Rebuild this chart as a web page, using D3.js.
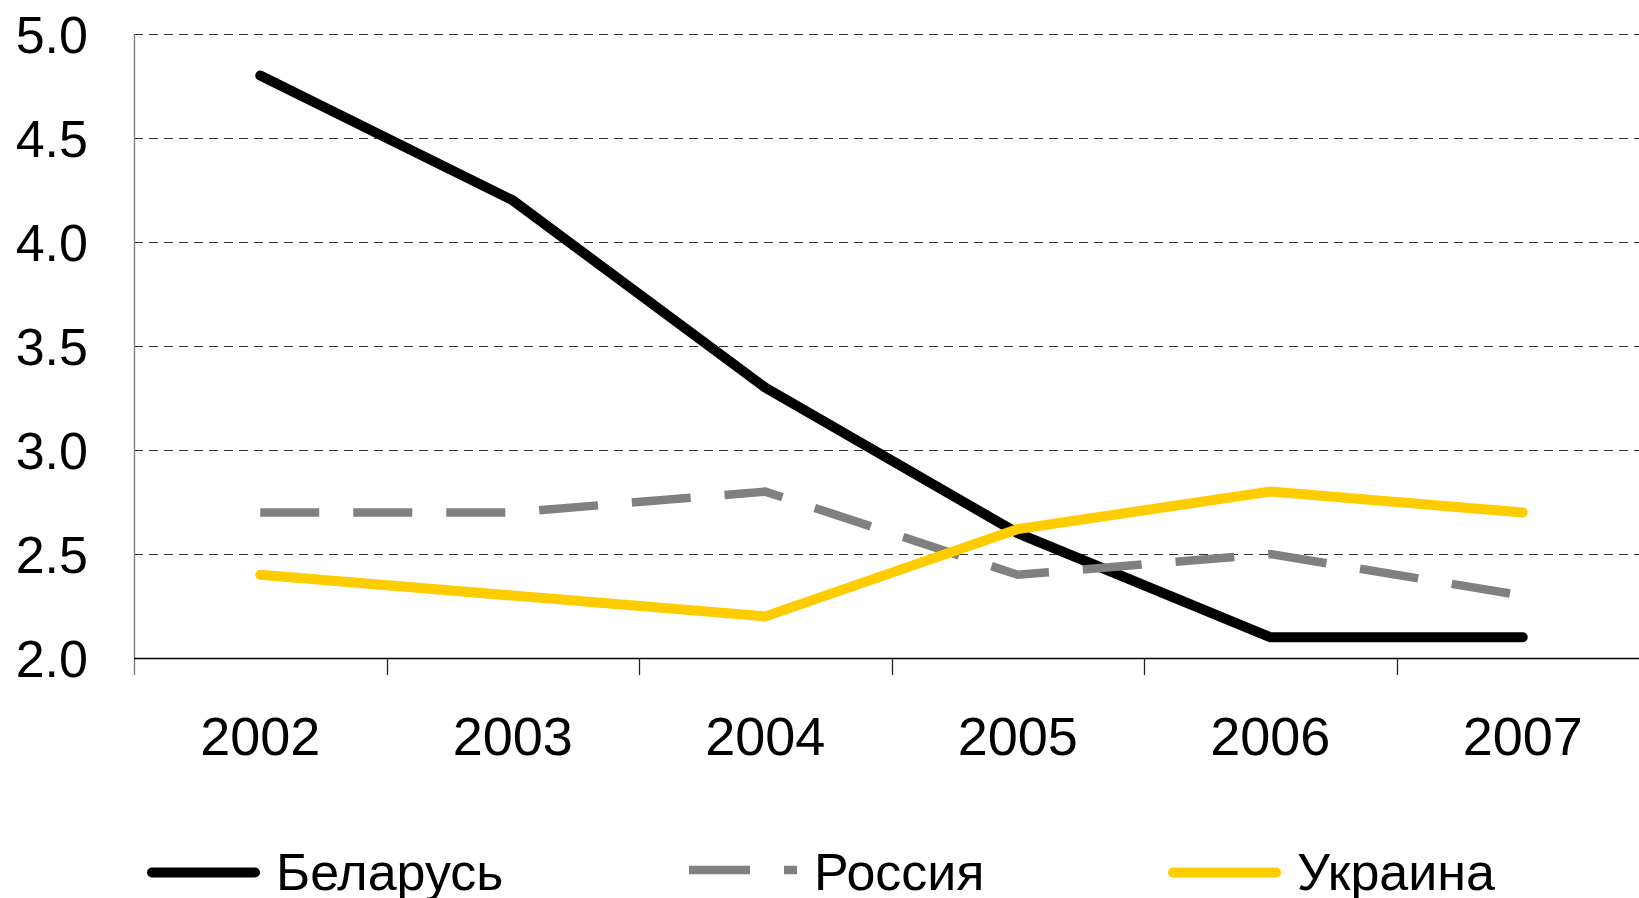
<!DOCTYPE html>
<html>
<head>
<meta charset="utf-8">
<script src="https://cdn.jsdelivr.net/npm/d3@7"></script>
<style>
  html, body { margin: 0; padding: 0; background: #fff; overflow: hidden; }
  svg { display: block; font-family: "Liberation Sans", Arial, sans-serif; }
</style>
</head>
<body>
<svg id="chart" width="1639" height="898"></svg>
<script>
var years = ["2002", "2003", "2004", "2005", "2006", "2007"];
var belarus = [4.8, 4.2, 3.3, 2.6, 2.1, 2.1];
var russia = [2.7, 2.7, 2.8, 2.4, 2.5, 2.3];
var ukraine = [2.4, 2.3, 2.2, 2.62, 2.8, 2.7];
var yTicks = [2.0, 2.5, 3.0, 3.5, 4.0, 4.5, 5.0];
var seriesNames = ["Беларусь", "Россия", "Украина"];

var series = [
  { name: seriesNames[0], values: belarus, color: "#000000", width: 10, dash: null, legendX: 152 },
  { name: seriesNames[1], values: russia, color: "#808080", width: 8.5, dash: "59 34", legendX: 689 },
  { name: seriesNames[2], values: ukraine, color: "#FFCC00", width: 10, dash: null, legendX: 1173 }
];

var svg = d3.select("#chart");

var x = d3.scaleBand().domain(years).range([134, 1649]).paddingInner(0).paddingOuter(0);
var y = d3.scaleLinear().domain([2, 5]).range([658, 34]);

// gridlines
svg.append("g").selectAll("line")
  .data(yTicks.filter(function (d) { return d > 2; }))
  .enter().append("line")
  .attr("x1", 134).attr("x2", 1649)
  .attr("y1", function (d) { return Math.round(y(d)) + 0.5; })
  .attr("y2", function (d) { return Math.round(y(d)) + 0.5; })
  .attr("stroke", "#333")
  .attr("stroke-width", 1)
  .attr("stroke-dasharray", "9 6");

// y axis line
svg.append("line")
  .attr("x1", 134.5).attr("x2", 134.5)
  .attr("y1", 34).attr("y2", 675)
  .attr("stroke", "#777").attr("stroke-width", 1.3);

// y labels
svg.append("g").selectAll("text")
  .data(yTicks)
  .enter().append("text")
  .attr("x", 88)
  .attr("y", function (d) { return y(d); })
  .attr("dy", "0.36em")
  .attr("text-anchor", "end")
  .attr("font-size", 52)
  .attr("fill", "#000")
  .text(function (d) { return d3.format(".1f")(d); });

// x axis line
svg.append("line")
  .attr("x1", 134).attr("x2", 1649)
  .attr("y1", 658.5).attr("y2", 658.5)
  .attr("stroke", "#000").attr("stroke-width", 1.5);

// x ticks between categories
svg.append("g").selectAll("line")
  .data(years.slice(1))
  .enter().append("line")
  .attr("x1", function (d) { return Math.round(x(d)) + 0.5; })
  .attr("x2", function (d) { return Math.round(x(d)) + 0.5; })
  .attr("y1", 658).attr("y2", 675)
  .attr("stroke", "#222").attr("stroke-width", 1.3);

// x labels
svg.append("g").selectAll("text")
  .data(years)
  .enter().append("text")
  .attr("x", function (d) { return x(d) + x.bandwidth() / 2; })
  .attr("y", 755)
  .attr("text-anchor", "middle")
  .attr("font-size", 54)
  .attr("fill", "#000")
  .text(function (d) { return d; });

// lines
var line = d3.line()
  .x(function (d, i) { return x(years[i]) + x.bandwidth() / 2; })
  .y(function (d) { return y(d); });

series.forEach(function (s) {
  svg.append("path")
    .datum(s.values)
    .attr("d", line)
    .attr("fill", "none")
    .attr("stroke", s.color)
    .attr("stroke-width", s.width)
    .attr("stroke-linecap", s.dash ? "butt" : "round")
    .attr("stroke-linejoin", "miter")
    .attr("stroke-dasharray", s.dash);
});

// draw black above grey, yellow on top like the original
// legend
var legend = svg.append("g");
series.forEach(function (s) {
  var ly = s.dash ? 870 : 872.5;
  legend.append("line")
    .attr("x1", s.legendX).attr("x2", s.dash ? 797 : s.legendX + 103)
    .attr("y1", ly).attr("y2", ly)
    .attr("stroke", s.color)
    .attr("stroke-width", s.width)
    .attr("stroke-linecap", s.dash ? "butt" : "round")
    .attr("stroke-dasharray", s.dash ? "61 34" : null);
  legend.append("text")
    .attr("x", s.dash ? 814 : s.legendX + 124)
    .attr("y", 889.5)
    .attr("font-size", 52)
    .attr("fill", "#000")
    .text(s.name);
});
</script>
</body>
</html>
